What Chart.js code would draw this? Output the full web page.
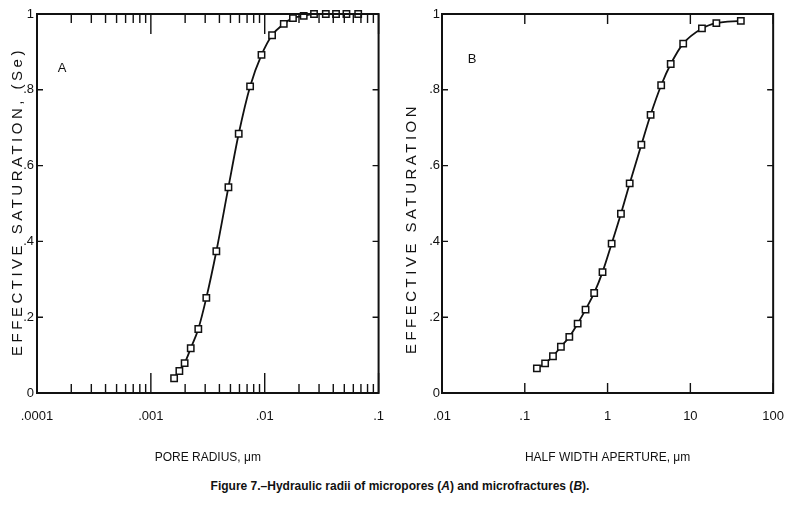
<!DOCTYPE html>
<html>
<head>
<meta charset="utf-8">
<script src="https://cdn.jsdelivr.net/npm/chart.js@4.4.1/dist/chart.umd.min.js"></script>
<style>
    body { margin: 0; background: #fff; }
    #wrap { position: relative; width: 800px; height: 532px; background: #fff; }
    canvas { position: absolute; top: 0; }
    #chartA { left: 0; }
    #chartB { left: 400px; }
    #caption {
        position: absolute; left: 0; top: 479px; width: 800px; text-align: center;
        font: bold 12px "Liberation Sans", Arial, sans-serif; color: #111;
    }
</style>
</head>
<body>
<div id="wrap">
    <canvas id="chartA" width="400" height="475"></canvas>
    <canvas id="chartB" width="400" height="475"></canvas>
    <div id="caption">Figure 7.–Hydraulic radii of micropores (<i>A</i>) and microfractures (<i>B</i>).</div>
</div>
<script>
// Datos
const poreRadius = [0.0016, 0.00178, 0.00198, 0.00224, 0.00261, 0.00307, 0.00376, 0.0048, 0.00591, 0.00744,
    0.00937, 0.0116, 0.0147, 0.0177, 0.022, 0.0271, 0.0344, 0.0423, 0.0522, 0.0662];
const saturationA = [0.039, 0.058, 0.079, 0.118, 0.169, 0.251, 0.374, 0.543, 0.684, 0.809,
    0.892, 0.944, 0.974, 0.989, 0.995, 1, 1, 1, 1, 1];

const halfAperture = [0.14, 0.176, 0.219, 0.273, 0.345, 0.435, 0.542, 0.689, 0.869, 1.12,
    1.45, 1.85, 2.56, 3.31, 4.44, 5.79, 8.19, 13.8, 20.6, 40.7];
const saturationB = [0.065, 0.078, 0.097, 0.122, 0.148, 0.183, 0.22, 0.264, 0.319, 0.394,
    0.473, 0.553, 0.655, 0.734, 0.812, 0.868, 0.922, 0.962, 0.976, 0.982];

const xTicksA = [0.0001, 0.001, 0.01, 0.1];
const xLabelsA = ['.0001', '.001', '.01', '.1'];
const xTicksB = [0.01, 0.1, 1, 10, 100];
const xLabelsB = ['.01', '.1', '1', '10', '100'];
const yTicks = [0, 0.2, 0.4, 0.6, 0.8, 1];
const yLabels = ['0', '.2', '.4', '.6', '.8', '1'];

const font = '"Liberation Sans", Arial, sans-serif';

// Marco, marcas interiores, letra del panel y título vertical
const framePlugin = {
    id: 'frame',
    afterDraw(chart, args, opts) {
        const { ctx, chartArea: a, scales } = chart;
        ctx.save();
        ctx.strokeStyle = '#111';
        ctx.lineWidth = 2;
        ctx.strokeRect(a.left, a.top, a.right - a.left, a.bottom - a.top);

        ctx.lineWidth = 1.4;
        ctx.beginPath();
        yTicks.slice(1, -1).forEach(v => {
            const y = scales.y.getPixelForValue(v);
            ctx.moveTo(a.left, y); ctx.lineTo(a.left + 6, y);
            ctx.moveTo(a.right, y); ctx.lineTo(a.right - 6, y);
        });
        const mark = (v, len) => {
            const x = scales.x.getPixelForValue(v);
            ctx.moveTo(x, a.bottom); ctx.lineTo(x, a.bottom - len);
            ctx.moveTo(x, a.top); ctx.lineTo(x, a.top + len);
        };
        opts.majors.forEach(v => mark(v, opts.majorLen));
        if (opts.minorLen) {
            opts.majors.slice(0, -1).forEach(d => {
                for (let k = 2; k <= 9; k++) mark(d * k, opts.minorLen);
            });
        }
        ctx.stroke();

        ctx.fillStyle = '#111';
        ctx.textAlign = 'center';
        ctx.textBaseline = 'middle';
        ctx.font = '13px ' + font;
        ctx.fillText(opts.letter, a.left + opts.lx, a.top + opts.ly);

        // Título del eje Y, con letras espaciadas como en el original
        ctx.translate(opts.tx, (a.top + a.bottom) / 2 + opts.ty);
        ctx.rotate(-Math.PI / 2);
        ctx.font = '15px ' + font;
        ctx.letterSpacing = '3.5px';
        ctx.fillText(opts.yTitle, 2, 0);
        ctx.restore();
    }
};

document.addEventListener('DOMContentLoaded', function() {
    initCharts();
});

function makeChart(id, xs, ys, xTicks, xLabels, xTitle, pad, frameOpts) {
    const ctx = document.getElementById(id).getContext('2d');
    return new Chart(ctx, {
        type: 'scatter',
        data: {
            datasets: [{
                data: xs.map((x, i) => ({ x: x, y: ys[i] })),
                showLine: true,
                cubicInterpolationMode: 'monotone',
                borderColor: '#111',
                borderWidth: 1.8,
                pointStyle: 'rect',
                pointRadius: 4.5,
                pointBackgroundColor: '#fff',
                pointBorderColor: '#111',
                pointBorderWidth: 1.5,
                clip: false
            }]
        },
        options: {
            responsive: false,
            animation: false,
            layout: { padding: { left: 0, top: 14, right: pad.right, bottom: 0 } },
            plugins: {
                legend: { display: false },
                tooltip: { enabled: false },
                frame: frameOpts
            },
            scales: {
                x: {
                    type: 'logarithmic',
                    min: xTicks[0],
                    max: xTicks[xTicks.length - 1],
                    grid: { display: false, drawTicks: false },
                    border: { display: false },
                    afterBuildTicks: s => { s.ticks = xTicks.map(v => ({ value: v })); },
                    afterFit: s => { s.height = 82; },
                    ticks: {
                        autoSkip: false,
                        maxRotation: 0,
                        padding: 16,
                        color: '#111',
                        font: { family: font, size: 13 },
                        callback: (v, i) => xLabels[i]
                    },
                    title: {
                        display: true,
                        text: xTitle,
                        color: '#111',
                        font: { family: font, size: 12 },
                        padding: { top: 0, bottom: 10 }
                    }
                },
                y: {
                    min: 0,
                    max: 1,
                    grid: { display: false, drawTicks: false },
                    border: { display: false },
                    afterBuildTicks: s => { s.ticks = yTicks.map(v => ({ value: v })); },
                    afterFit: s => { s.width = pad.yWidth; },
                    ticks: {
                        padding: pad.yPad,
                        color: '#111',
                        font: { family: font, size: 13 },
                        callback: (v, i) => yLabels[i]
                    }
                }
            }
        },
        plugins: [framePlugin]
    });
}

function initCharts() {
    makeChart('chartA', poreRadius, saturationA, xTicksA, xLabelsA, 'PORE RADIUS, μm',
        { right: 19, yWidth: 37, yPad: 3 },
        { majors: xTicksA, majorLen: 20, minorLen: 9, letter: 'A', lx: 25, ly: 54,
          yTitle: 'EFFECTIVE SATURATION, (Se)', tx: 18, ty: 0 });

    makeChart('chartB', halfAperture, saturationB, xTicksB, xLabelsB, 'HALF WIDTH APERTURE, μm',
        { right: 13, yWidth: 42, yPad: 2 },
        { majors: xTicksB, majorLen: 10, minorLen: 0, letter: 'B', lx: 30, ly: 45,
          yTitle: 'EFFECTIVE SATURATION', tx: 12, ty: 27 });
}
</script>
</body>
</html>
